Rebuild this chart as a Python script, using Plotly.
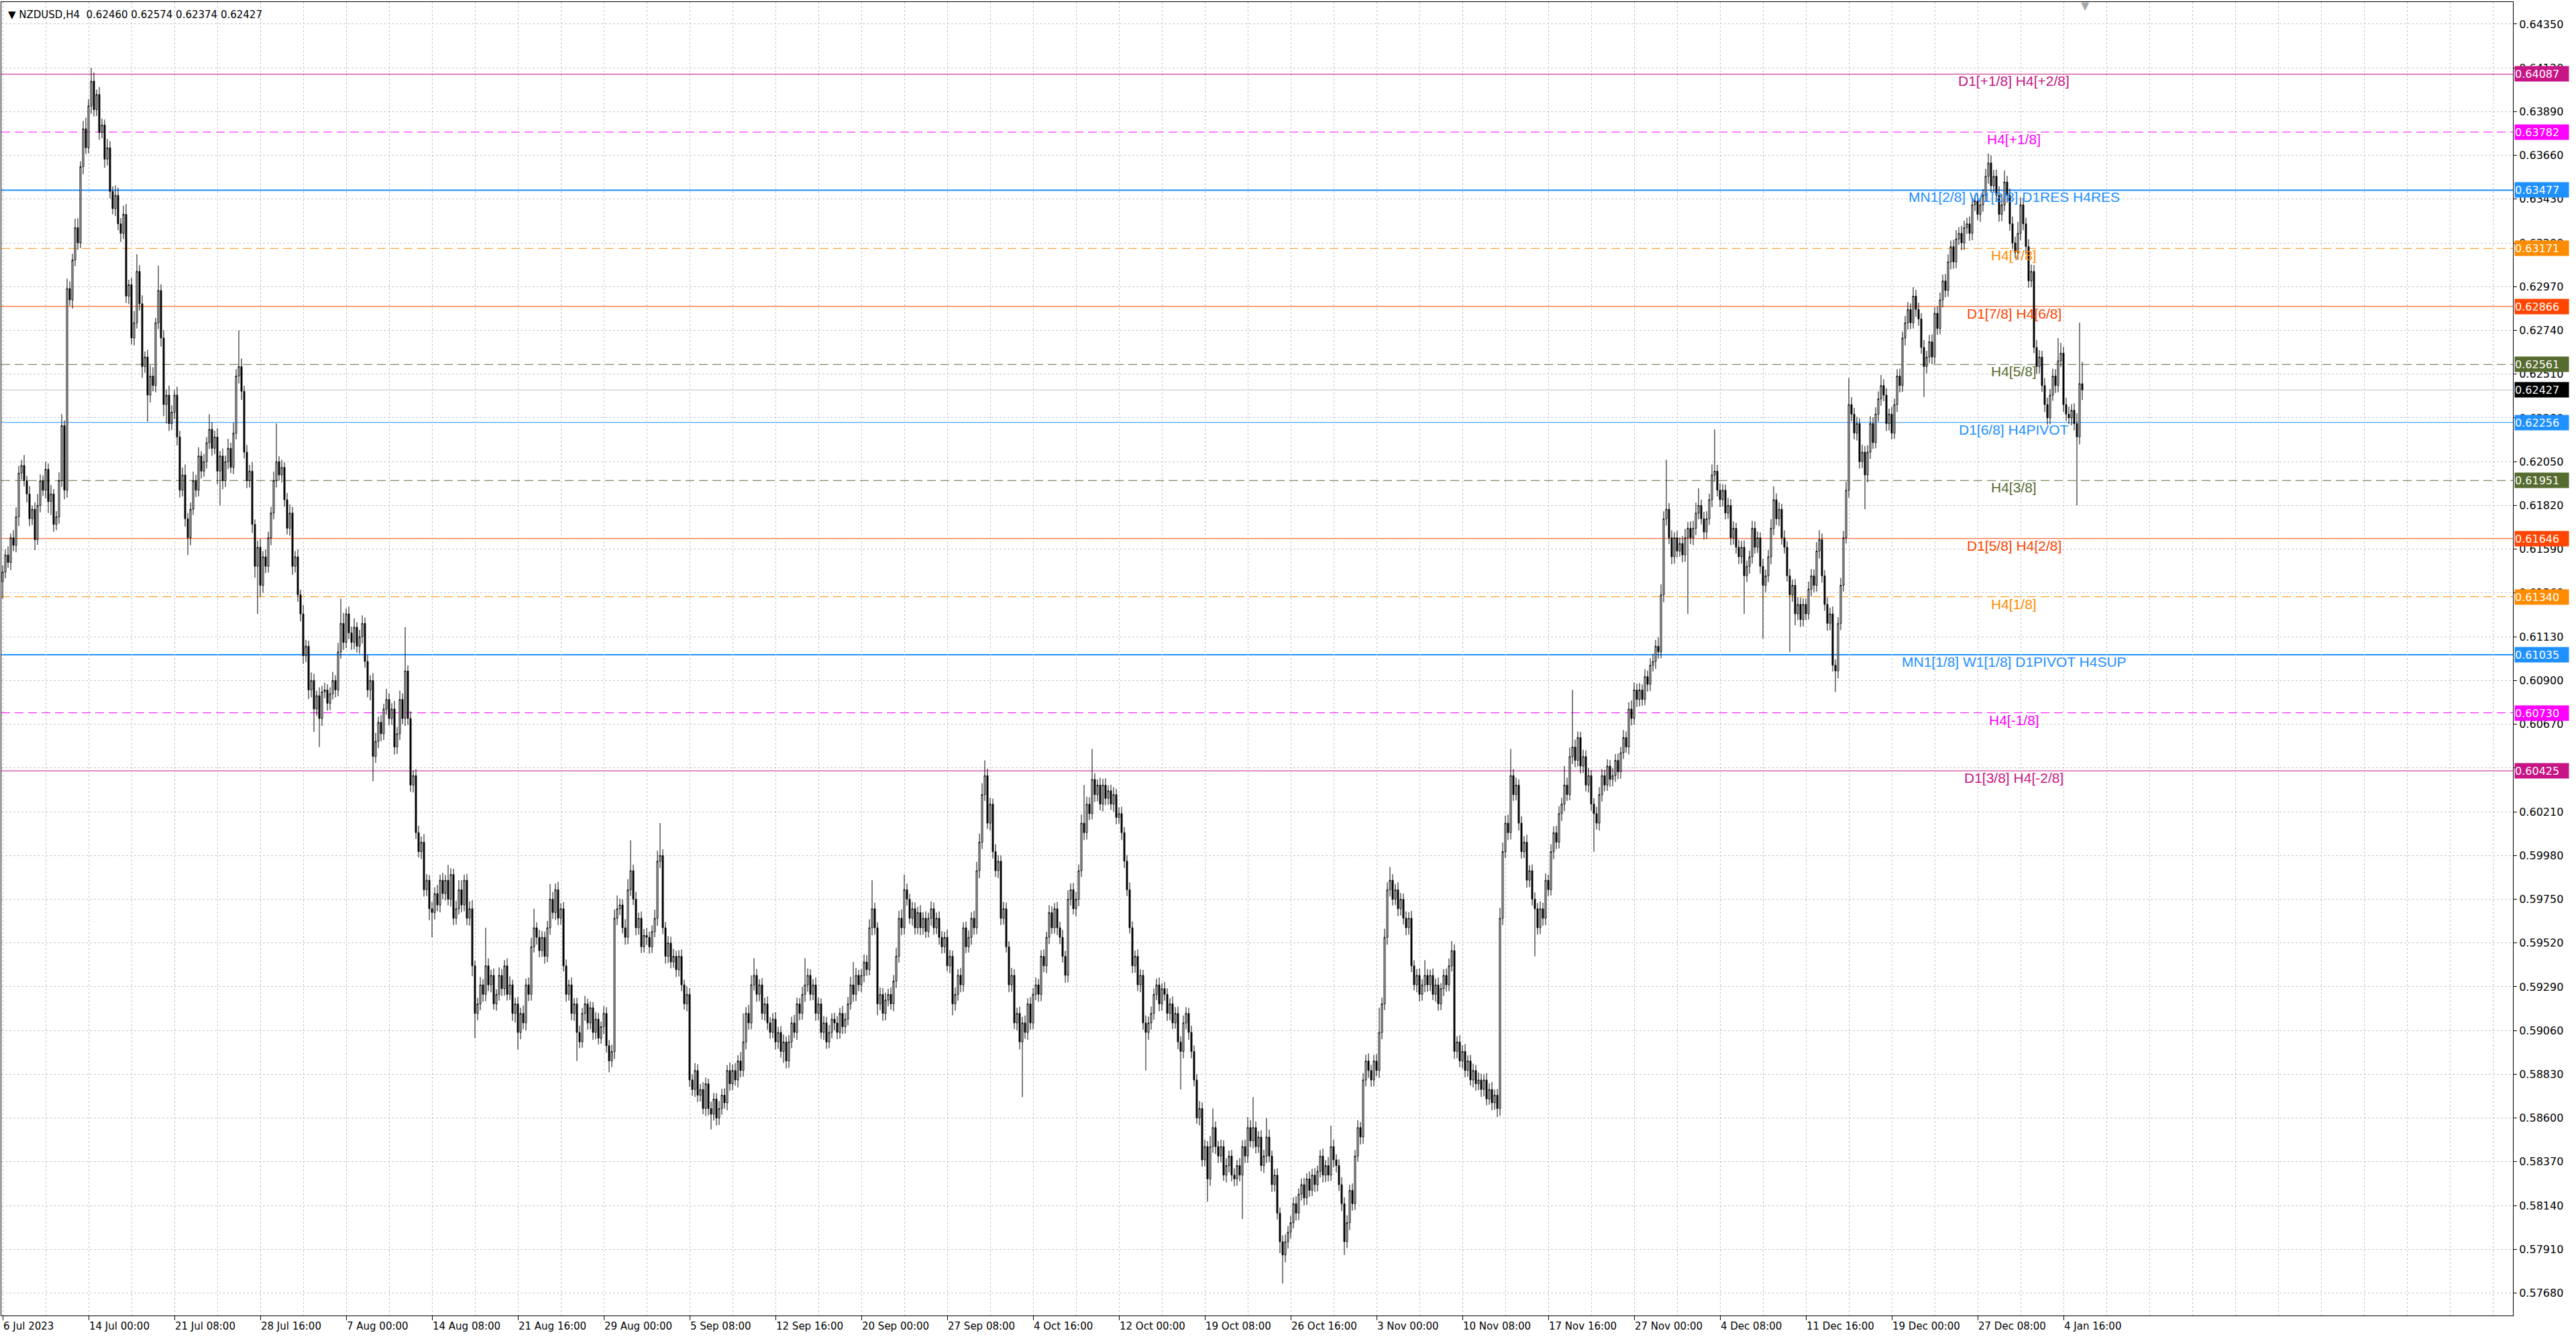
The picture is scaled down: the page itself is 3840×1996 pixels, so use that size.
import plotly.graph_objects as go

# Cours NZDUSD H4, en points (1e-5). Open de chaque bougie = close de la précédente.
first_open = 61420
closes = [
    61470, 61560, 61520, 61650, 61610, 61760, 61990, 62030, 61950, 61880,
    61750, 61800, 61640, 61820, 61950, 61900, 62010, 61840, 61880, 61720,
    61760, 61950, 62240, 61900, 62960, 62900, 63110, 63280, 63200, 63600,
    63800, 63700, 63920, 64050, 63900, 63980, 63780, 63820, 63640, 63700,
    63470, 63380, 63450, 63300, 63250, 63350, 62920, 62980, 62700, 62780,
    63050, 62880, 62550, 62600, 62400, 62500, 62450, 62780, 62950, 62700,
    62350, 62400, 62250, 62310, 62400, 62180, 61900, 61980, 61750, 61650,
    61800, 61950, 61900, 62080, 62000, 62050, 62150, 62220, 62120, 62180,
    62000, 62080, 61950, 62050, 62120, 62020, 62200, 62500, 62550, 62420,
    62100, 61950, 62000, 61720, 61500, 61600, 61400, 61550, 61500, 61650,
    61780, 61950, 62050, 61980, 62020, 61850, 61700, 61780, 61500, 61550,
    61350, 61250, 61030, 61080, 60850, 60900, 60750, 60820, 60700, 60840,
    60850, 60780, 60830, 60900, 60850, 61050, 61200, 61100, 61250, 61150,
    61100, 61180, 61080, 61130, 61200, 61000, 60850, 60900, 60500, 60580,
    60680, 60620, 60750, 60800, 60700, 60750, 60550, 60620, 60800, 60700,
    60950, 60700, 60350, 60400, 60100, 60000, 60050, 59800, 59850, 59700,
    59680, 59780, 59720, 59850, 59780, 59850, 59750, 59880, 59650, 59700,
    59800, 59720, 59850, 59650, 59700, 59400, 59150, 59200, 59300, 59250,
    59400, 59300, 59350, 59200, 59250, 59350, 59280, 59400, 59250, 59300,
    59150, 59200, 59050, 59150, 59100, 59300, 59250, 59500, 59600, 59550,
    59480, 59550, 59450, 59600, 59750, 59680, 59800, 59650, 59700, 59400,
    59250, 59300, 59150, 59200, 59050, 59000, 59150, 59200, 59100, 59180,
    59050, 59120, 59020, 59080, 59150, 58980, 58900, 58950, 59650, 59700,
    59720, 59600, 59550, 59800, 59900, 59750, 59600, 59650, 59500, 59560,
    59550, 59500, 59580, 59650, 59950, 59980, 59600, 59450, 59520, 59420,
    59450, 59380, 59450, 59300, 59200, 59250, 58800, 58750, 58850, 58720,
    58750, 58650, 58780, 58650, 58620, 58700, 58600, 58650, 58720, 58680,
    58850, 58780, 58850, 58800, 58900, 58850, 59000, 59150, 59100, 59300,
    59350, 59250, 59300, 59150, 59200, 59100, 59050, 59120, 59000, 59050,
    58950, 59000, 58900, 59000, 59100, 59050, 59200, 59150, 59250, 59300,
    59350, 59250, 59300, 59150, 59200, 59050, 59100, 59000, 59050, 59120,
    59100, 59050, 59150, 59080, 59120, 59200, 59300, 59250, 59350, 59300,
    59350, 59420, 59380, 59600, 59700, 59600, 59200, 59250, 59150, 59220,
    59250, 59200, 59320, 59450, 59650, 59600, 59800, 59750, 59650, 59700,
    59600, 59680, 59600, 59650, 59580, 59650, 59700, 59600, 59650, 59550,
    59500, 59550, 59400, 59450, 59200, 59250, 59350, 59300, 59600, 59500,
    59550, 59650, 59600, 59900, 60050, 60300, 60400, 60150, 60250, 60000,
    59900, 59950, 59650, 59700, 59500, 59300, 59350, 59100, 59150, 59000,
    59100, 59050, 59200, 59100, 59250, 59300, 59250, 59450, 59400, 59550,
    59680, 59600, 59700, 59600, 59550, 59450, 59350, 59750, 59800, 59700,
    59750, 59900, 60150, 60100, 60250, 60200, 60380, 60300, 60350, 60250,
    60350, 60280, 60320, 60250, 60300, 60180, 60200, 60100, 59950, 59800,
    59600, 59400, 59450, 59300, 59350, 59100, 59050, 59100, 59150, 59250,
    59300, 59200, 59280, 59250, 59150, 59200, 59100, 59150, 59000, 58950,
    59100, 59150, 59050, 58950, 58800, 58600, 58650, 58380, 58450, 58280,
    58450, 58550, 58450, 58400, 58450, 58300, 58350, 58400, 58300, 58280,
    58350, 58300, 58450, 58400, 58550, 58480, 58550, 58450, 58500, 58350,
    58400, 58500, 58400, 58250, 58300, 58100, 57950, 57880, 57950, 58000,
    58050, 58150, 58100, 58200, 58250, 58180, 58280, 58220, 58300, 58250,
    58320, 58400, 58300, 58350, 58300, 58450, 58380, 58350, 58250, 58150,
    57950, 58050, 58220, 58150, 58400, 58550, 58500, 58800, 58900, 58850,
    58800, 58900, 58850, 59050, 59200, 59550, 59800, 59850, 59750, 59800,
    59700, 59750, 59650, 59600, 59650, 59400, 59300, 59350, 59250, 59300,
    59350, 59300, 59350, 59250, 59300, 59200, 59280, 59350, 59300, 59400,
    59480, 58950, 59000, 58900, 58950, 58850, 58900, 58800, 58850, 58780,
    58800, 58750, 58800, 58700, 58750, 58680, 58720, 58650, 59650, 60000,
    60150, 60100, 60400, 60300, 60350, 60150, 60000, 60050, 59850, 59900,
    59750, 59700, 59600, 59700, 59650, 59850, 59800, 60000, 60100, 60050,
    60200, 60250, 60350, 60300, 60500, 60550, 60480, 60600, 60450, 60500,
    60350, 60400, 60250, 60200, 60150, 60300, 60400, 60350, 60450, 60380,
    60400, 60480, 60420, 60520, 60600, 60550, 60750, 60700, 60850, 60800,
    60850, 60800, 60920, 60880, 60980, 61000, 61080, 61050, 61350, 61750,
    61800, 61650, 61550, 61650, 61580, 61620, 61560, 61650, 61700, 61650,
    61700, 61780, 61820, 61750, 61680, 61750, 61850, 61980, 62000, 61900,
    61850, 61900, 61780, 61820, 61650, 61700, 61600, 61550, 61600, 61450,
    61500, 61550, 61700, 61600, 61650, 61500, 61400, 61450, 61550, 61700,
    61850, 61750, 61800, 61650, 61600, 61450, 61350, 61400, 61250, 61300,
    61220, 61300, 61250, 61380, 61450, 61400, 61580, 61640, 61450, 61300,
    61200, 61250, 60980, 60950, 61200, 61400, 61650, 61900, 62350, 62300,
    62200, 62250, 62050, 62100, 61980, 62100, 62250, 62150, 62300, 62380,
    62450, 62400, 62250, 62300, 62200, 62350, 62500, 62450, 62700, 62780,
    62850, 62780, 62920, 62850, 62800, 62650, 62550, 62600, 62680, 62600,
    62830, 62750, 62900, 63000, 62950, 63100, 63180, 63100, 63220, 63250,
    63200, 63280, 63300, 63250, 63400, 63420, 63350, 63400, 63450, 63550,
    63620, 63500, 63550, 63450, 63350, 63400, 63520, 63450, 63300, 63200,
    63150, 63250, 63400, 63300, 63180, 63000, 63050, 62650, 62550, 62600,
    62450, 62350, 62280, 62400, 62500, 62450, 62580, 62620, 62350, 62300,
    62280, 62320, 62250, 62180, 62460, 62427,
]

# Mèches hautes et basses (points au-delà du corps)
upper_wicks = [
    35, 28, 45, 22, 40, 50, 38, 30, 55, 25, 42, 20, 36, 60, 33, 28, 40, 31, 48, 26,
    30, 44, 60, 27, 52, 38, 33, 47, 50, 29, 41, 58, 35, 70, 45, 26, 39, 33, 28, 46,
    34, 27, 52, 40, 30, 46, 55, 26, 36, 62, 90, 33, 44, 29, 38, 56, 47, 25, 130, 32,
    41, 29, 50, 36, 26, 44, 32, 39, 55, 30, 35, 48, 31, 46, 25, 40, 29, 80, 37, 33,
    45, 26, 39, 32, 50, 30, 54, 36, 190, 42, 29, 38, 33, 47, 26, 35, 44, 30, 39, 32,
    33, 48, 200, 29, 40, 26, 36, 45, 32, 30, 39, 27, 47, 33, 29, 42, 35, 26, 44, 31,
    38, 30, 34, 45, 27, 48, 130, 55, 29, 39, 33, 47, 26, 36, 42, 30, 33, 27, 39, 44,
    30, 39, 27, 55, 33, 30, 42, 36, 47, 32, 230, 29, 38, 27, 33, 36, 30, 42, 32, 27,
    36, 33, 45, 29, 39, 27, 80, 33, 30, 42, 50, 50, 29, 33, 39, 45, 27, 32, 42, 30,
    200, 39, 30, 36, 27, 42, 33, 30, 39, 45, 27, 32, 36, 30, 42, 33, 39, 47, 100, 29,
    39, 32, 30, 36, 80, 39, 33, 42, 29, 36, 33, 27, 39, 30, 32, 36, 29, 42, 27, 33,
    30, 36, 32, 27, 39, 33, 30, 36, 47, 70, 33, 29, 45, 55, 160, 32, 39, 30, 36, 33,
    39, 29, 33, 45, 55, 170, 32, 30, 36, 33, 39, 29, 32, 36, 27, 42, 32, 30, 39, 33,
    29, 39, 33, 27, 36, 32, 30, 39, 33, 36, 29, 42, 32, 39, 30, 47, 150, 33, 45, 50,
    90, 33, 29, 36, 32, 39, 30, 32, 36, 29, 33, 39, 29, 36, 32, 42, 33, 30, 39, 140,
    36, 32, 30, 39, 33, 29, 36, 32, 39, 30, 33, 36, 29, 39, 32, 36, 42, 120, 39, 29,
    33, 39, 36, 45, 150, 32, 29, 36, 33, 39, 30, 36, 32, 45, 39, 47, 80, 32, 29, 36,
    33, 30, 39, 32, 36, 29, 39, 33, 30, 36, 32, 29, 39, 33, 30, 36, 32, 39, 29, 33,
    36, 32, 39, 47, 45, 60, 80, 36, 33, 29, 39, 32, 30, 36, 33, 29, 39, 32, 30, 36,
    32, 39, 29, 36, 33, 39, 30, 32, 36, 29, 39, 33, 30, 36, 32, 39, 29, 47, 33, 36,
    39, 33, 45, 200, 39, 36, 160, 32, 30, 39, 33, 36, 29, 32, 39, 30, 33, 36, 29, 32,
    39, 33, 30, 36, 32, 29, 39, 33, 36, 30, 33, 39, 29, 36, 32, 30, 39, 33, 36, 29,
    39, 33, 29, 36, 32, 30, 39, 33, 36, 29, 55, 100, 32, 30, 36, 33, 39, 29, 32, 36,
    30, 39, 33, 36, 55, 39, 160, 32, 30, 36, 33, 100, 39, 29, 32, 36, 30, 33, 39, 32,
    36, 33, 39, 30, 32, 36, 29, 39, 33, 36, 30, 32, 39, 29, 45, 110, 36, 30, 33, 39,
    33, 39, 30, 36, 32, 39, 29, 36, 33, 39, 30, 32, 36, 130, 33, 45, 39, 70, 32, 30,
    39, 33, 30, 36, 32, 39, 29, 33, 36, 30, 80, 32, 30, 36, 33, 39, 29, 32, 36, 39,
    50, 33, 30, 36, 32, 39, 29, 32, 36, 30, 39, 33, 29, 36, 32, 39, 30, 33, 55, 47,
    39, 45, 140, 33, 39, 30, 36, 32, 39, 29, 33, 36, 30, 39, 32, 36, 29, 39, 33, 36,
    39, 33, 100, 39, 47, 300, 39, 32, 30, 36, 33, 39, 29, 32, 36, 39, 33, 30, 36, 32,
    39, 33, 36, 30, 39, 32, 36, 45, 39, 33, 36, 29, 39, 32, 36, 39, 33, 47, 55, 39,
    260, 33, 39, 29, 36, 32, 39, 47, 33, 36, 39, 55, 90, 30, 36, 39, 32, 55, 220, 33,
    36, 32, 30, 39, 33, 36, 29, 39, 33, 36, 30, 32, 39, 36, 33, 29, 39, 32, 36, 47,
    70, 33, 36, 29, 39, 32, 36, 30, 33, 39, 36, 32, 30, 39, 36, 33, 47, 50, 32, 30,
    36, 33, 39, 30, 32, 39, 36, 45, 140, 39, 33, 36, 29, 39, 32, 36, 39, 33, 36, 39,
    55, 33, 36, 29, 39, 32, 36, 39, 33, 36, 39, 32, 47, 33, 36, 30, 39, 32, 36, 39,
    32, 36, 39, 33, 36, 39, 32, 36, 47, 33, 39, 36, 32, 39, 36, 33, 39, 36, 32, 39,
    50, 39, 33, 36, 47, 55, 60, 32, 36, 39, 33, 60, 39, 36, 32, 39, 36, 33, 39, 36,
    33, 39, 36, 32, 39, 36, 120, 55, 33, 36, 39, 32, 36, 55, 320, 114,
]
lower_wicks = [
    90, 33, 28, 40, 30, 36, 48, 33, 30, 45, 39, 33, 55, 27, 36, 30, 42, 60, 70, 39,
    30, 36, 33, 48, 39, 30, 45, 33, 36, 27, 39, 33, 30, 42, 36, 33, 39, 30, 45, 33,
    36, 30, 39, 33, 45, 30, 36, 42, 33, 39, 30, 36, 60, 33, 140, 39, 30, 36, 33, 45,
    60, 100, 39, 33, 36, 45, 39, 33, 42, 90, 39, 30, 36, 33, 39, 30, 36, 33, 39, 30,
    70, 180, 45, 33, 39, 30, 36, 33, 39, 45, 33, 39, 36, 45, 60, 250, 60, 39, 36, 33,
    39, 33, 36, 30, 39, 36, 33, 39, 45, 33, 36, 39, 42, 33, 48, 39, 120, 36, 150, 39,
    33, 39, 36, 30, 39, 33, 36, 39, 30, 33, 39, 36, 33, 39, 36, 33, 39, 55, 130, 33,
    36, 39, 33, 30, 36, 33, 39, 36, 33, 30, 39, 33, 36, 39, 33, 30, 39, 36, 33, 60,
    130, 36, 33, 39, 30, 36, 33, 39, 36, 33, 30, 39, 33, 36, 39, 55, 130, 36, 33, 39,
    36, 33, 39, 30, 36, 33, 39, 36, 33, 30, 39, 48, 90, 36, 33, 39, 36, 33, 30, 39,
    36, 33, 39, 30, 36, 33, 39, 36, 33, 30, 39, 33, 36, 39, 150, 33, 30, 39, 36, 33,
    39, 36, 33, 30, 39, 36, 60, 33, 39, 36, 33, 30, 39, 36, 33, 30, 39, 36, 33, 30,
    39, 36, 33, 30, 39, 36, 33, 39, 36, 33, 30, 39, 36, 33, 30, 39, 36, 33, 39, 36,
    33, 30, 39, 36, 80, 33, 39, 36, 33, 30, 39, 36, 33, 30, 39, 36, 33, 39, 36, 33,
    30, 39, 36, 33, 39, 36, 33, 30, 39, 36, 33, 60, 39, 36, 33, 30, 39, 36, 33, 39,
    36, 33, 30, 39, 36, 33, 39, 36, 33, 30, 39, 36, 33, 39, 36, 33, 30, 39, 36, 33,
    39, 36, 33, 30, 39, 36, 60, 33, 39, 36, 33, 30, 39, 36, 33, 39, 36, 33, 30, 39,
    36, 33, 39, 36, 33, 30, 39, 36, 33, 39, 36, 33, 30, 39, 60, 36, 33, 39, 36, 33,
    30, 39, 36, 33, 39, 36, 33, 30, 39, 36, 33, 39, 36, 33, 30, 39, 36, 33, 39, 39,
    290, 33, 39, 36, 33, 30, 39, 36, 33, 39, 36, 33, 30, 39, 36, 33, 39, 36, 33, 30,
    39, 36, 33, 39, 36, 33, 30, 39, 36, 33, 39, 36, 33, 30, 39, 36, 33, 39, 36, 33,
    30, 39, 36, 33, 39, 36, 200, 39, 36, 33, 30, 39, 36, 33, 39, 36, 33, 30, 39, 200,
    36, 33, 39, 36, 33, 30, 39, 36, 33, 120, 36, 33, 39, 36, 33, 30, 39, 36, 33, 39,
    36, 33, 230, 36, 36, 33, 39, 36, 33, 30, 39, 36, 33, 39, 36, 33, 60, 150, 39, 36,
    33, 30, 39, 36, 33, 39, 36, 33, 30, 39, 36, 33, 39, 36, 33, 30, 39, 36, 33, 39,
    70, 33, 39, 36, 33, 30, 39, 36, 33, 39, 36, 33, 30, 39, 36, 33, 39, 36, 33, 30,
    39, 36, 33, 39, 36, 33, 30, 39, 36, 33, 39, 36, 33, 30, 39, 36, 33, 39, 36, 33,
    30, 39, 36, 33, 39, 36, 33, 30, 39, 36, 33, 39, 36, 33, 30, 39, 36, 45, 39, 36,
    33, 39, 36, 33, 30, 39, 36, 33, 39, 36, 33, 250, 36, 33, 39, 36, 33, 30, 39, 36,
    33, 39, 36, 33, 30, 39, 36, 33, 39, 36, 33, 39, 36, 200, 33, 39, 36, 33, 30, 39,
    36, 33, 39, 36, 33, 30, 39, 36, 33, 39, 36, 33, 30, 39, 36, 33, 39, 36, 33, 39,
    36, 33, 39, 36, 33, 30, 39, 36, 400, 33, 39, 36, 33, 30, 39, 36, 33, 39, 36, 33,
    39, 36, 33, 30, 39, 36, 33, 39, 36, 200, 33, 39, 36, 33, 30, 39, 280, 36, 33, 39,
    36, 33, 39, 36, 33, 30, 300, 36, 60, 33, 39, 36, 33, 30, 39, 36, 33, 39, 36, 33,
    39, 36, 33, 110, 39, 36, 33, 30, 39, 36, 33, 39, 36, 33, 180, 39, 36, 33, 30, 39,
    36, 33, 39, 36, 33, 30, 39, 36, 33, 39, 36, 33, 30, 39, 36, 33, 160, 36, 33, 39,
    36, 33, 30, 39, 36, 33, 39, 36, 33, 30, 39, 36, 33, 39, 36, 33, 30, 39, 36, 33,
    39, 36, 33, 30, 39, 36, 33, 39, 36, 33, 30, 39, 36, 33, 39, 36, 33, 30, 39, 36,
    33, 39, 36, 33, 30, 39, 36, 33, 39, 36, 33, 39, 36, 360, 39, 53,
]

x_labels = ["6 Jul 2023", "14 Jul 00:00", "21 Jul 08:00", "28 Jul 16:00", "7 Aug 00:00",
            "14 Aug 08:00", "21 Aug 16:00", "29 Aug 00:00", "5 Sep 08:00", "12 Sep 16:00",
            "20 Sep 00:00", "27 Sep 08:00", "4 Oct 16:00", "12 Oct 00:00", "19 Oct 08:00",
            "26 Oct 16:00", "3 Nov 00:00", "10 Nov 08:00", "17 Nov 16:00", "27 Nov 00:00",
            "4 Dec 08:00", "11 Dec 16:00", "19 Dec 00:00", "27 Dec 08:00", "4 Jan 16:00"]
y_labels = ["0.57680", "0.57910", "0.58140", "0.58370", "0.58600", "0.58830", "0.59060",
            "0.59290", "0.59520", "0.59750", "0.59980", "0.60210", "0.60440", "0.60670",
            "0.60900", "0.61130", "0.61360", "0.61590", "0.61820", "0.62050", "0.62280",
            "0.62510", "0.62740", "0.62970", "0.63200", "0.63430", "0.63660", "0.63890",
            "0.64120", "0.64350"]

# Niveaux Murrey
level_prices = [0.64087, 0.63782, 0.63477, 0.63171, 0.62866, 0.62561, 0.62256,
                0.61951, 0.61646, 0.61340, 0.61035, 0.60730, 0.60425]
level_names = ["D1[+1/8] H4[+2/8]", "H4[+1/8]", "MN1[2/8] W1[2/8] D1RES H4RES", "H4[7/8]",
               "D1[7/8] H4[6/8]", "H4[5/8]", "D1[6/8] H4PIVOT", "H4[3/8]", "D1[5/8] H4[2/8]",
               "H4[1/8]", "MN1[1/8] W1[1/8] D1PIVOT H4SUP", "H4[-1/8]", "D1[3/8] H4[-2/8]"]
level_colors = ["#C71585", "#FF00FF", "#1E90FF", "#FF8C00", "#FF4500", "#556B2F", "#1E90FF",
                "#556B2F", "#FF4500", "#FF8C00", "#1E90FF", "#FF00FF", "#C71585"]
level_dashed = [False, True, False, True, False, True, False, True, False, True, False, True, False]
level_widths = [1, 1, 2, 1, 1, 1, 1, 1, 1, 1, 2, 1, 1]

last_price = 0.62427
header = "NZDUSD,H4  0.62460 0.62574 0.62374 0.62427"

opens = [first_open] + closes[:-1]
highs = [max(o, c) + u for o, c, u in zip(opens, closes, upper_wicks)]
lows = [min(o, c) - d for o, c, d in zip(opens, closes, lower_wicks)]
bars = list(range(len(closes)))

fig = go.Figure(go.Candlestick(
    x=bars,
    open=[v / 1e5 for v in opens],
    high=[v / 1e5 for v in highs],
    low=[v / 1e5 for v in lows],
    close=[v / 1e5 for v in closes],
    increasing=dict(line=dict(color="black", width=1), fillcolor="white"),
    decreasing=dict(line=dict(color="black", width=1), fillcolor="black"),
    whiskerwidth=0,
))

grid = "#C4C4C4"
fig.update_layout(
    width=3840, height=1996,
    margin=dict(l=2, r=94, t=3, b=35, autoexpand=False),
    paper_bgcolor="white", plot_bgcolor="white",
    showlegend=False,
    xaxis=dict(
        range=[-0.5, 935.5],
        tickvals=[32 * i for i in range(len(x_labels))], ticktext=x_labels,
        ticks="outside", ticklen=6, tickcolor="black",
        ticklabelposition="outside right", ticklabelstandoff=2,
        tickfont=dict(family="DejaVu Sans", size=15, color="black"),
        showgrid=True, gridcolor=grid, griddash="3px,3px", gridwidth=1,
        minor=dict(dtick=16, tick0=0, showgrid=True, gridcolor=grid, griddash="3px,3px"),
        showline=True, linecolor="black", linewidth=1, mirror=True,
        zeroline=False, rangeslider=dict(visible=False),
    ),
    yaxis=dict(
        side="right",
        range=[0.57562, 0.64466],
        tickvals=[float(t) for t in y_labels], ticktext=y_labels,
        ticks="outside", ticklen=5, tickcolor="black",
        tickfont=dict(family="DejaVu Sans", size=16, color="black"),
        showgrid=True, gridcolor=grid, griddash="3px,3px", gridwidth=1,
        showline=True, linecolor="black", linewidth=1, mirror=True,
        zeroline=False,
    ),
)

# Lignes de niveaux
for p, name, col, dashed, w in zip(level_prices, level_names, level_colors, level_dashed, level_widths):
    fig.add_shape(type="line", xref="paper", x0=0, x1=1, yref="y", y0=p, y1=p,
                  line=dict(color=col, width=w, dash="13px,7px" if dashed else "solid"),
                  layer="between")
    fig.add_annotation(x=749.5, xref="x", y=p, yref="y", text=name, showarrow=False,
                       xanchor="center", yanchor="top", yshift=3,
                       font=dict(family="Liberation Sans", size=21, color=col))
    fig.add_annotation(x=1, xref="paper", y=p, yref="y", text=f"{p:.5f}", showarrow=False,
                       xanchor="left", yanchor="middle", xshift=2, width=80, height=22,
                       align="left", bgcolor=col, borderpad=0,
                       font=dict(family="DejaVu Sans", size=16, color="white"))

# Prix courant
fig.add_shape(type="line", xref="paper", x0=0, x1=1, yref="y", y0=last_price, y1=last_price,
              line=dict(color="#C0C0C0", width=1), layer="between")
fig.add_annotation(x=1, xref="paper", y=last_price, yref="y", text=f"{last_price:.5f}",
                   showarrow=False, xanchor="left", yanchor="middle", xshift=2, width=80,
                   height=22, align="left", bgcolor="black", borderpad=0,
                   font=dict(family="DejaVu Sans", size=16, color="white"))

# En-tête
fig.add_annotation(x=0, xref="paper", y=1, yref="paper", text="▼ " + header, showarrow=False,
                   xanchor="left", yanchor="top", xshift=8, yshift=-8,
                   font=dict(family="DejaVu Sans", size=15, color="black"))
fig.add_annotation(x=776, xref="x", y=1, yref="paper", text="▼", showarrow=False,
                   xanchor="center", yanchor="top", yshift=6,
                   font=dict(family="DejaVu Sans", size=16, color="#A8A8A8"))

# page sans marge pour que la figure occupe exactement la fenêtre
fig.write_html("out.html", config={"displayModeBar": False},
               post_script="document.body.style.margin='0';document.body.style.overflow='hidden';")
